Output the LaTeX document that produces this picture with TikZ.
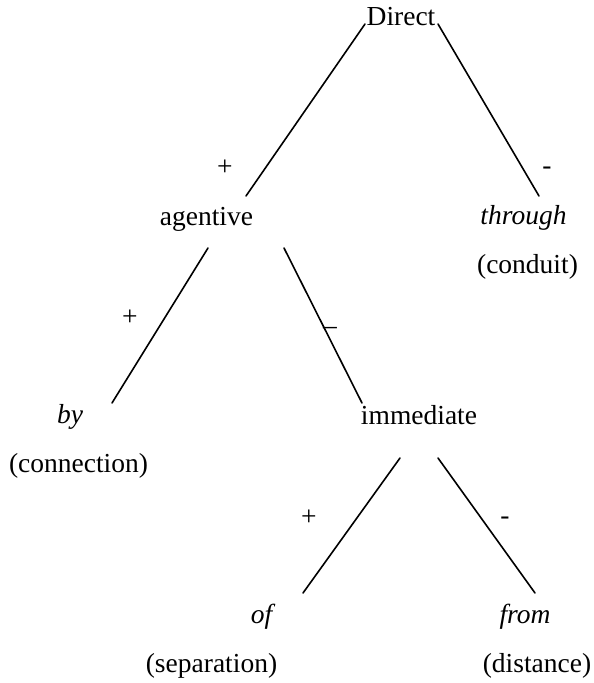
\documentclass[tikz,border=0pt]{standalone}
\usepackage{fontspec}
\setmainfont{Liberation Serif}
\usetikzlibrary{calc}
\begin{document}
\begin{tikzpicture}[x=1pt,y=-1pt,
  lbl/.style={anchor=base,inner sep=0pt,font=\fontsize{27.5}{33}\selectfont},
  ital/.style={lbl,font=\fontsize{27.5}{33}\selectfont\itshape},
  edge/.style={line width=1.6pt,line cap=round}]
\useasboundingbox (0,0) rectangle (594,683);
% nodes
\node[lbl] (direct) at (401,25) {Direct};
\node[lbl] (agentive) at (206.5,225) {agentive};
\node[ital] (through) at (523.5,224) {through};
\node[lbl] (conduit) at (527.5,273) {(conduit)};
\node[ital] (by) at (70,423) {by};
\node[lbl] (connection) at (78.5,472) {(connection)};
\node[lbl] (immediate) at (419,424) {immediate};
\node[ital] (of) at (261.5,623) {of};
\node[ital] (from) at (525,623) {from};
\node[lbl] (separation) at (211.5,672) {(separation)};
\node[lbl] (distance) at (537,672) {(distance)};
% signs
\node[lbl] (p1) at (225,175) {+};
\node[lbl] (m1) at (547,174) {-};
\node[lbl] (p2) at (130,325) {+};
\node[lbl] (m2) at (330,334) {–};
\node[lbl] (p3) at (309,525) {+};
\node[lbl] (m3) at (505,524) {-};
% connectors
\draw[edge] ($(direct.base)+(-36,-1)$) -- ($(agentive.base)+(39.5,-29)$);
\draw[edge] ($(direct.base)+(37,-1)$) -- ($(through.base)+(15.5,-28)$);
\draw[edge] ($(agentive.base)+(1.5,23)$) -- ($(by.base)+(42,-20)$);
\draw[edge] ($(agentive.base)+(77.5,23)$) -- ($(immediate.base)+(-57,-21)$);
\draw[edge] ($(immediate.base)+(-19,34)$) -- ($(of.base)+(41.5,-30)$);
\draw[edge] ($(immediate.base)+(19,34)$) -- ($(from.base)+(10,-30)$);
\end{tikzpicture}
\end{document}
